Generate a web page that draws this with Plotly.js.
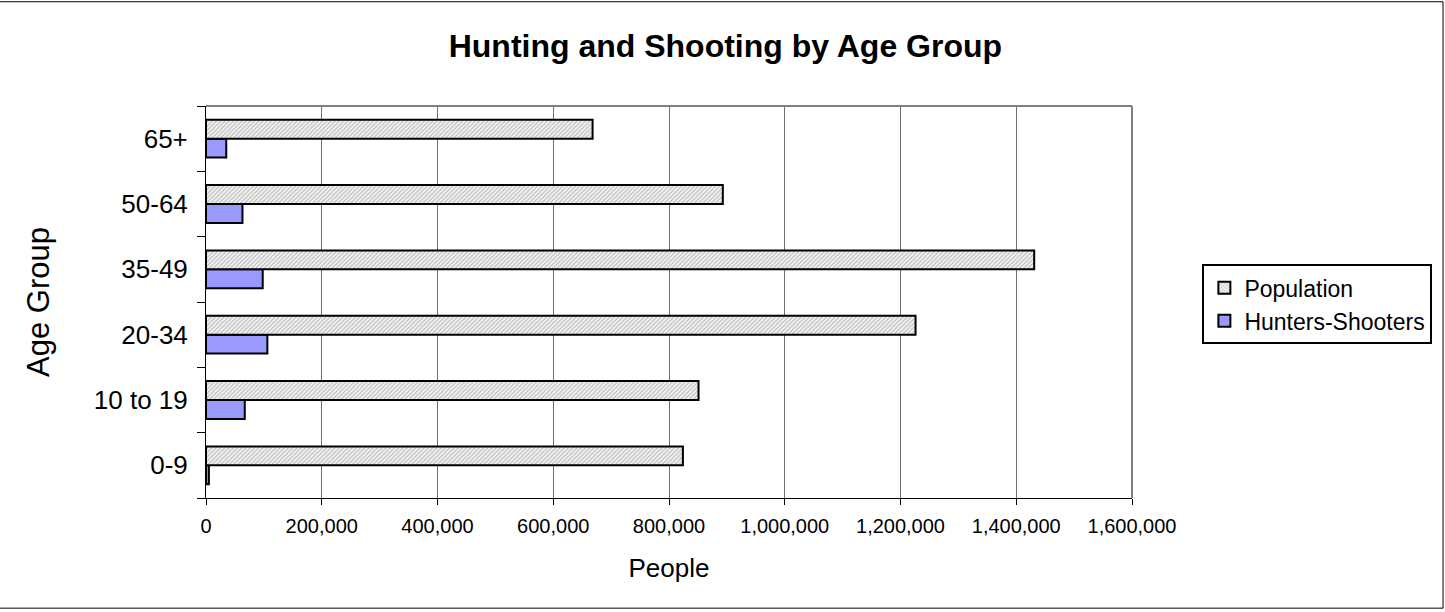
<!DOCTYPE html>
<html>
<head>
<meta charset="utf-8">
<script src="https://cdn.plot.ly/plotly-3.0.1.min.js"></script>
<style>
html, body { margin: 0; padding: 0; background: #fff; }
#chart { width: 1445px; height: 612px; }
</style>
</head>
<body>
<div id="chart"></div>
<script>
// Data
const ageGroups = ["0-9", "10 to 19", "20-34", "35-49", "50-64", "65+"];
const population = [824000, 851000, 1226000, 1431000, 893000, 668000];
const huntersShooters = [5000, 67000, 106000, 98000, 63000, 35000];
const xTickVals = [0, 200000, 400000, 600000, 800000, 1000000, 1200000, 1400000, 1600000];

const FONT = "Liberation Sans, Arial, sans-serif";

const traces = [
  {
    type: "bar",
    orientation: "h",
    name: "Hunters-Shooters",
    y: ageGroups,
    x: huntersShooters,
    marker: { color: "#9999FF", line: { color: "#000", width: 2 } },
    hoverinfo: "x+y+name"
  },
  {
    type: "bar",
    orientation: "h",
    name: "Population",
    y: ageGroups,
    x: population,
    marker: {
      color: "#eeeeee",
      line: { color: "#000", width: 2 },
      pattern: { shape: "/", fgcolor: "#b0b0b0", bgcolor: "#f2f2f2", size: 3, solidity: 0.3 }
    },
    hoverinfo: "x+y+name"
  }
];

const layout = {
  width: 1445,
  height: 612,
  margin: { l: 206, r: 313, t: 106, b: 114, pad: 0 },
  paper_bgcolor: "#fff",
  plot_bgcolor: "#fff",
  barmode: "group",
  bargap: 0.42,
  bargroupgap: 0,
  font: { family: FONT, color: "#000" },
  title: {
    text: "<b>Hunting and Shooting by Age Group</b>",
    font: { family: FONT, size: 32, color: "#000" },
    x: 0.502, xanchor: "center", xref: "container",
    y: 0.925, yanchor: "middle", yref: "container"
  },
  xaxis: {
    range: [0, 1600000],
    tickvals: xTickVals,
    tickformat: ",d",
    tickfont: { family: FONT, size: 20 },
    ticks: "outside", ticklen: 6, tickcolor: "#000", tickwidth: 1,
    showline: true, linecolor: "#000", linewidth: 1,
    showgrid: true, gridcolor: "#707070", gridwidth: 1,
    zeroline: false,
    ticklabelstandoff: 4,
    title: { text: "People", font: { family: FONT, size: 26 }, standoff: 22 },
    fixedrange: true
  },
  yaxis: {
    type: "category",
    categoryorder: "array",
    categoryarray: ageGroups,
    tickfont: { family: FONT, size: 26 },
    ticks: "outside", tickson: "boundaries", ticklen: 8, tickcolor: "#000", tickwidth: 1,
    showline: true, linecolor: "#000", linewidth: 1,
    showgrid: false,
    zeroline: false,
    ticklabelstandoff: 12,
    title: { text: "Age Group", font: { family: FONT, size: 31 }, standoff: 34 },
    fixedrange: true
  },
  legend: {
    x: 1.076, xanchor: "left",
    y: 0.596, yanchor: "top",
    traceorder: "reversed",
    bgcolor: "#fff",
    bordercolor: "#000",
    borderwidth: 2,
    font: { family: FONT, size: 23, color: "#000" },
    itemwidth: 30,
    tracegroupgap: 0
  },
  shapes: [
    { type: "line", xref: "paper", yref: "paper", x0: 0, x1: 1, y0: 1, y1: 1,
      line: { color: "#808080", width: 2 }, layer: "above" },
    { type: "line", xref: "paper", yref: "paper", x0: 1, x1: 1, y0: 0, y1: 1,
      line: { color: "#808080", width: 2 }, layer: "above" },
    { type: "rect", xref: "paper", yref: "paper",
      x0: -1.3, x1: 1.3359, y0: -0.281, y1: 1.266,
      line: { color: "#000", width: 1 }, fillcolor: "rgba(0,0,0,0)", layer: "above" }
  ],
  showlegend: true
};

Plotly.newPlot("chart", traces, layout, { displayModeBar: false, staticPlot: true });
</script>
</body>
</html>
